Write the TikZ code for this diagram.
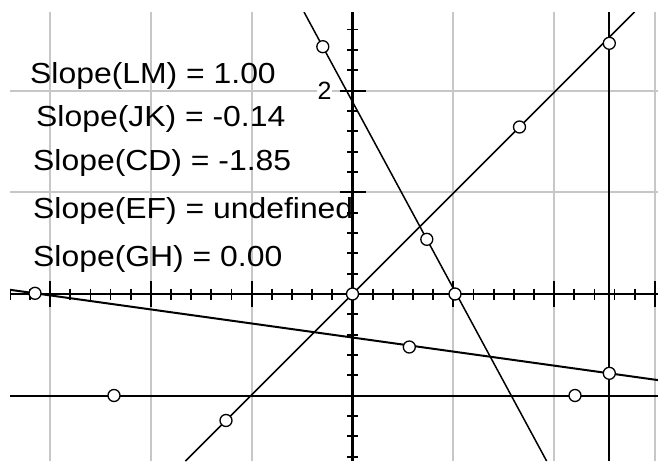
\documentclass[tikz,border=0pt]{standalone}
\usepackage{fontspec}
\setmainfont{Liberation Sans}
\begin{document}
\begin{tikzpicture}[x=1pt,y=-1pt,
  gridline/.style={draw=black!22, line width=1.8pt},
  axisline/.style={draw=black, line width=2.2pt},
  tickline/.style={draw=black, line width=1.8pt},
  thinline/.style={draw=black, line width=1.5pt},
  thickline/.style={draw=black, line width=2pt},
  pt/.style={circle, draw=black, fill=white, line width=1.3pt, minimum size=12pt, inner sep=0pt},
  lbl/.style={anchor=base west, inner sep=0pt, font=\fontsize{29}{29}\selectfont},
  axlbl/.style={fill=white, inner sep=1pt, font=\fontsize{25}{25}\selectfont},
]
\useasboundingbox (0,0) rectangle (658,461);
\begin{scope}
\clip (10,12) rectangle (658,461);
% grid
\foreach \gx in {50.1,150.9,251.7,453.3,554.1,654.9}
  \draw[gridline] (\gx,12) -- (\gx,461);
\foreach \gy in {90.6,192.3}
  \draw[gridline] (10,\gy) -- (658,\gy);
% y-axis label
\node[axlbl] (two) at (324.5,91) {2};
% axes
\coordinate (xl) at (10,294);
\coordinate (xr) at (658,294);
\coordinate (yt) at (352.5,12);
\coordinate (yb) at (352.5,461);
\draw[axisline] (xl) -- (xr);
\draw[axisline] (yt) -- (yb);
% ticks
\foreach \k in {-17,...,15} {
  \pgfmathsetmacro\tx{352.5+\k*20.16}
  \draw[tickline] (\tx,288.5) -- (\tx,299.5);
}
\foreach \k in {-15,-10,-5,5,10,15} {
  \pgfmathsetmacro\tx{352.5+\k*20.16}
  \draw[tickline] (\tx,281) -- (\tx,307);
}
\foreach \k in {-8,...,13} {
  \pgfmathsetmacro\ty{294-\k*20.34}
  \draw[tickline] (347,\ty) -- (358,\ty);
}
\foreach \k in {-5,5,10} {
  \pgfmathsetmacro\ty{294-\k*20.34}
  \draw[tickline] (339.5,\ty) -- (365.5,\ty);
}
% lines
\coordinate (LMa) at (185.5,461);
\coordinate (LMb) at (634.5,12);
\coordinate (CDa) at (304,12);
\coordinate (CDb) at (546.6,461);
\coordinate (JKa) at (10,289.8);
\coordinate (JKb) at (658,380.1);
\coordinate (GHa) at (10,395.5);
\coordinate (GHb) at (658,395.5);
\coordinate (EFa) at (609.3,12);
\coordinate (EFb) at (609.3,461);
\draw[thickline] (GHa) -- (GHb);
\draw[thickline] (EFa) -- (EFb);
\draw[thickline] (JKa) -- (JKb);
\draw[thinline] (LMa) -- (LMb);
\draw[thinline] (CDa) -- (CDb);
% points
\node[pt] (O) at (352.5,294) {};
\node[pt] (L) at (226,420.5) {};
\node[pt] (M) at (519.5,127) {};
\node[pt] (E) at (609.3,43.3) {};
\node[pt] (F) at (609.3,373.3) {};
\node[pt] (C) at (322.8,46.7) {};
\node[pt] (D) at (426.8,239.3) {};
\node[pt] (X) at (455,294) {};
\node[pt] (J) at (35,293.3) {};
\node[pt] (K) at (409.3,347) {};
\node[pt] (G) at (114,395.5) {};
\node[pt] (H) at (575,395.5) {};
\end{scope}
% labels
\node[lbl] (sLM) at (30,83) {\scalebox{1.1}[1]{Slope(LM) = 1.00}};
\node[lbl] (sJK) at (36,126) {\scalebox{1.1}[1]{Slope(JK) = -0.14}};
\node[lbl] (sCD) at (33,170) {\scalebox{1.1}[1]{Slope(CD) = -1.85}};
\node[lbl] (sEF) at (33,218) {\scalebox{1.1}[1]{Slope(EF) = undefined}};
\node[lbl] (sGH) at (33,266) {\scalebox{1.1}[1]{Slope(GH) = 0.00}};
\end{tikzpicture}
\end{document}
